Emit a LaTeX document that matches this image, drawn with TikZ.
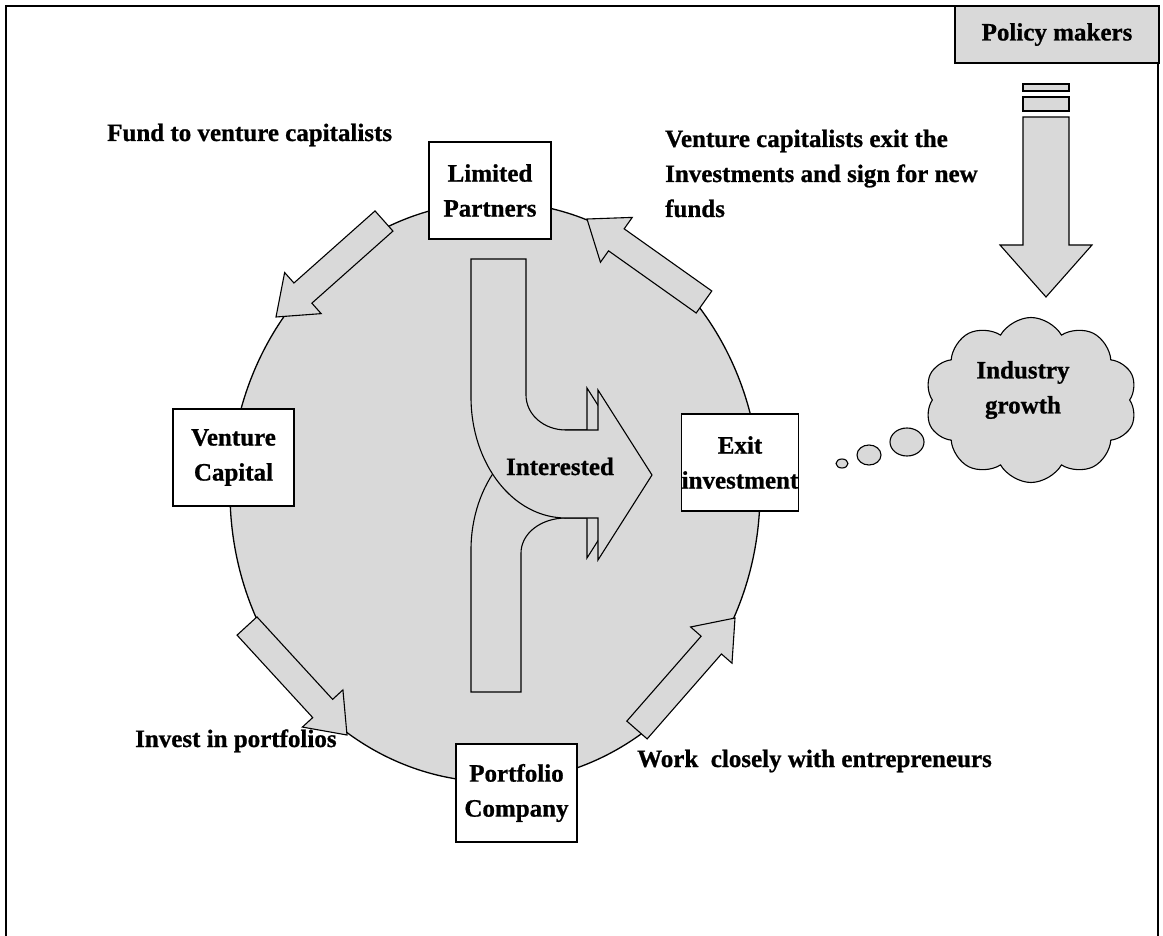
\documentclass[tikz,border=0pt]{standalone}
\usepackage{fontspec}
\setmainfont{Liberation Serif}[BoldFeatures={FakeBold=0.8}]
\usetikzlibrary{calc,shapes.symbols}
\definecolor{shade}{RGB}{217,217,217}
\newcommand{\blockarrow}[2]{%
  \coordinate (#1b) at ($(#2)!36pt!(#1)$);
  \filldraw[blk] ($(#1)!13.5pt!90:(#2)$) -- ($(#1b)!13.5pt!-90:(#1)$) -- ($(#1b)!27.5pt!-90:(#1)$) -- (#2)
    -- ($(#1b)!27.5pt!90:(#1)$) -- ($(#1b)!13.5pt!90:(#1)$) -- ($(#1)!13.5pt!-90:(#2)$) -- cycle;}
\tikzset{
  blk/.style={fill=shade, draw=black, line width=1.1pt, line join=miter},
  txt/.style={font=\fontsize{25}{35}\selectfont\bfseries, inner sep=0pt},
  box/.style={txt, draw=black, fill=white, line width=1.3pt, align=center},
}
\begin{document}
\begin{tikzpicture}[x=1pt, y=-1pt]
\useasboundingbox (0,0) rectangle (1163,936);
% frame
\draw[line width=1.6pt] (6,936) -- (6,6) -- (1158,6) -- (1158,936);
% big circle
\filldraw[fill=shade, draw=black, line width=1.3pt] (495,492) ellipse [x radius=265, y radius=290];
% block arrows around the circle
\coordinate (a1) at (384,221); \coordinate (a1t) at (276,317);
\coordinate (a2) at (704,302); \coordinate (a2t) at (587,219);
\coordinate (a3) at (247,626); \coordinate (a3t) at (347,735);
\coordinate (a4) at (637,730); \coordinate (a4t) at (735,618);
\blockarrow{a1}{a1t}
\blockarrow{a2}{a2t}
\blockarrow{a3}{a3t}
\blockarrow{a4}{a4t}
% central merging arrows (lower one first)
\filldraw[blk] (471,692) -- (471,550) .. controls (471,483.7) and (514,430) .. (566,430)
  -- (587,430) -- (587,388) -- (641,473) -- (587,558) -- (587,518) -- (566,518)
  .. controls (540.6,518) and (521,533.7) .. (521,553) -- (521,692) -- cycle;
\filldraw[blk] (471,259) -- (526,259) -- (526,395) .. controls (526,414.3) and (543.5,430) .. (566,430)
  -- (598,430) -- (598,390) -- (652,475) -- (598,560) -- (598,518) -- (566,518)
  .. controls (513,518) and (471,463.8) .. (471,397) -- cycle;
\node[txt, anchor=base] (interested) at (560,475) {Interested};
% boxes
\node[box, minimum width=122pt, minimum height=97pt] (lp) at (490,190.5) {Limited\\Partners};
\node[box, minimum width=121pt, minimum height=97pt] (vc) at (233.5,457.5) {Venture\\Capital};
\node[box, minimum width=121pt, minimum height=98pt] (pc) at (516.5,793) {Portfolio\\Company};
\node[box, minimum width=114pt, minimum height=97pt] (exit) at (740,462.5) {Exit\\investment};
% labels
\node[txt, anchor=base west] (fund) at (107,141) {Fund to venture capitalists};
\node[txt, anchor=base west, align=left] (vcexit) at (665,217) {Venture capitalists exit the\\Investments and sign for new\\funds};
\node[txt, anchor=base west] (invest) at (135,747) {Invest in portfolios};
\node[txt, anchor=base west] (work) at (637,767) {Work\ \ closely with entrepreneurs};
% policy makers
\node[box, fill=shade, minimum width=204pt, minimum height=57pt] (policy) at (1057,34.5) {Policy makers};
\filldraw[blk] (1023,84) rectangle (1069,91);
\filldraw[blk] (1023,97) rectangle (1069,111);
\filldraw[blk] (1023,117) -- (1069,117) -- (1069,245) -- (1092,245) -- (1046,297) -- (1000,245) -- (1023,245) -- cycle;
% cloud
\node[cloud, blk, cloud puffs=10, cloud puff arc=120, aspect=1.3, minimum width=212pt, minimum height=165pt] (cloud) at (1031,400) {};
\node[txt, align=center] (growth) at (1023,390) {Industry\\growth};
\filldraw[blk] (907,442) ellipse [x radius=17, y radius=14];
\filldraw[blk] (869,455) ellipse [x radius=12, y radius=10];
\filldraw[blk] (842,463.5) ellipse [x radius=6, y radius=4.5];
\end{tikzpicture}
\end{document}
